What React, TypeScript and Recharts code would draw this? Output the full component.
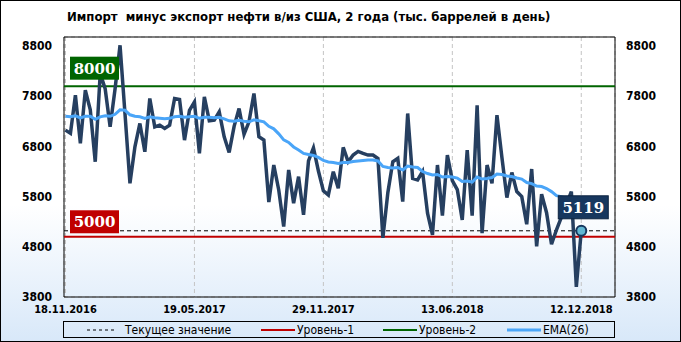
import React from "react";
import {
  CartesianGrid,
  ComposedChart,
  Line,
  ReferenceArea,
  ReferenceDot,
  ReferenceLine,
  XAxis,
  YAxis,
} from "recharts";

// weekly net imports (thousand barrels per day)
const netImports = [
  7125, 7060, 7820, 6860, 7920, 7530, 6495, 8250, 7950, 7190,
  7950, 8815, 7450, 6065, 6793, 7257, 6694, 7754, 7190, 7224,
  7158, 7224, 7754, 7734, 6926, 7520, 7687, 6660, 7787, 7310,
  7323, 7489, 6990, 6680, 7200, 7555, 7040, 7290, 7853, 6992,
  6926, 5690, 6430, 5932, 5204, 6330, 5668, 6197, 5436, 6510,
  6770, 6310, 5915, 5833, 6297, 5965, 6780, 6495, 6628, 6700,
  6660, 6628, 6628, 6560, 4980, 5880, 6495, 6562, 5700, 7456,
  6164, 6131, 6300, 5469, 5038, 6429, 5420, 6628, 6120, 5940,
  5336, 6727, 5420, 7621, 5072, 6429, 6065, 7423, 6580, 5780,
  6280, 5900, 5800, 5250, 6350, 4807, 5850, 5480, 4850, 5140,
  5390, 5650, 5900, 4000, 5119,
];

const ema26 = [
  7400, 7390, 7410, 7370, 7400, 7400, 7340, 7390, 7410, 7400,
  7440, 7530, 7520, 7430, 7400, 7390, 7360, 7390, 7370, 7360,
  7350, 7360, 7390, 7400, 7380, 7390, 7400, 7360, 7380, 7380,
  7370, 7380, 7350, 7310, 7300, 7320, 7300, 7290, 7330, 7310,
  7290, 7200, 7150, 7050, 6930, 6880, 6790, 6730, 6660, 6640,
  6620, 6580, 6520, 6490, 6480, 6460, 6480, 6480, 6500, 6510,
  6520, 6530, 6530, 6510, 6400, 6380, 6370, 6380, 6330, 6410,
  6390, 6380, 6300, 6260, 6230, 6240, 6190, 6200, 6190, 6170,
  6100, 6110, 6090, 6190, 6150, 6160, 6180, 6250, 6240, 6210,
  6200, 6170, 6150, 6080, 6060, 6010, 6000, 5960, 5900, 5820,
  5800, 5770, 5760, 5680, 5640,
];

const tickIndex = [0, 26, 52, 78, 104];
const tickLabels = ["18.11.2016", "19.05.2017", "29.11.2017", "13.06.2018", "12.12.2018"];
const yTicks = [3800, 4800, 5800, 6800, 7800, 8800];
const level1 = 5000;
const level2 = 8000;
const lastValue = netImports[netImports.length - 1];

const data = netImports.map((v, i) => ({ i, value: v, ema: ema26[i] }));

const X_MIN = -0.3;
const X_MAX = 110.8;
const Y_MIN = 3800;
const Y_MAX = 8980;

const axisFont = "'DejaVu Sans Condensed', 'DejaVu Sans', sans-serif";
const boxFont = "'DejaVu Serif', 'Liberation Serif', serif";

function LevelTag(props: any) {
  const { viewBox, text, fill, gap } = props;
  if (!viewBox) return null;
  const x = viewBox.x + 6;
  const y = viewBox.y - gap - 23;
  return (
    <g>
      <rect x={x} y={y} width={49} height={23} fill={fill} />
      <text
        x={x + 24.5}
        y={y + 17}
        textAnchor="middle"
        fill="#fff"
        fontFamily={boxFont}
        fontWeight="bold"
        fontSize={15}
      >
        {text}
      </text>
    </g>
  );
}

function LastTag(props: any) {
  const { viewBox, text } = props;
  if (!viewBox) return null;
  const cx = viewBox.x + viewBox.width / 2 + 2;
  const cy = viewBox.y + viewBox.height / 2;
  const x = cx - 25;
  const y = cy - 12 - 23;
  return (
    <g>
      <rect x={x} y={y} width={50} height={23} fill="#17375e" stroke="#0d2440" />
      <text
        x={cx}
        y={y + 17}
        textAnchor="middle"
        fill="#fff"
        fontFamily={boxFont}
        fontWeight="bold"
        fontSize={15}
      >
        {text}
      </text>
    </g>
  );
}

function LegendItem({ left, color, width, dashed, label }: any) {
  return (
    <div style={{ position: "absolute", left, top: 0, height: 15, display: "flex", alignItems: "center" }}>
      <svg width={dashed ? 36 : 34} height={6} style={{ display: "block" }}>
        <line
          x1={0}
          y1={3}
          x2={dashed ? 30 : 34}
          y2={3}
          stroke={color}
          strokeWidth={width}
          strokeDasharray={dashed ? "3 3" : undefined}
        />
      </svg>
      <span style={{ marginLeft: 2, fontSize: 12, fontFamily: axisFont, color: "#000" }}>{label}</span>
    </div>
  );
}

export default function App() {
  return (
    <div
      style={{
        position: "absolute",
        left: 0,
        top: 0,
        width: 681,
        height: 342,
        background: "linear-gradient(to bottom, #ffffff 0%, #ffffff 60%, #d8e8f9 100%)",
        boxShadow: "inset 0 0 0 1px #000",
        overflow: "hidden",
      }}
    >
      <div
        style={{
          position: "absolute",
          left: 67,
          top: 10,
          fontFamily: axisFont,
          fontWeight: "bold",
          fontSize: 13,
          lineHeight: "13px",
          whiteSpace: "pre",
          color: "#000",
        }}
      >
        Импорт  минус экспорт нефти в/из США, 2 года (тыс. баррелей в день)
      </div>

      <ComposedChart
        width={681}
        height={342}
        data={data}
        margin={{ top: 37, right: 0, bottom: 25, left: 0 }}
        style={{ position: "absolute", left: 0, top: 0 }}
      >
        <CartesianGrid stroke="#c4c4c4" strokeDasharray="4 3" vertical horizontal />
        <XAxis
          dataKey="i"
          type="number"
          domain={[X_MIN, X_MAX]}
          ticks={tickIndex}
          tickFormatter={(_v: number, idx: number) => tickLabels[idx]}
          height={20}
          tickSize={0}
          tickMargin={8}
          axisLine={false}
          interval={0}
          tick={{ fill: "#000", fontSize: 11, fontWeight: "bold", fontFamily: axisFont }}
        />
        <YAxis
          yAxisId="l"
          domain={[Y_MIN, Y_MAX]}
          ticks={yTicks}
          width={64}
          tickSize={0}
          tickMargin={12}
          axisLine={false}
          allowDataOverflow
          tick={{ fill: "#000", fontSize: 12, fontWeight: "bold", fontFamily: axisFont }}
        />
        <YAxis
          yAxisId="r"
          orientation="right"
          domain={[Y_MIN, Y_MAX]}
          ticks={yTicks}
          width={66}
          tickSize={0}
          tickMargin={11}
          axisLine={false}
          allowDataOverflow
          tick={{ fill: "#000", fontSize: 12, fontWeight: "bold", fontFamily: axisFont }}
        />
        <ReferenceArea
          yAxisId="l"
          x1={X_MIN}
          x2={X_MAX}
          y1={Y_MIN}
          y2={Y_MAX}
          fill="none"
          stroke="#000"
          strokeWidth={1}
        />
        <ReferenceLine
          yAxisId="l"
          y={lastValue}
          stroke="#000"
          strokeWidth={1}
          strokeDasharray="4 3"
        />
        <ReferenceLine yAxisId="l" y={level1} stroke="#c00000" strokeWidth={2} />
        <ReferenceLine yAxisId="l" y={level2} stroke="#006400" strokeWidth={2} />
        <Line
          yAxisId="l"
          dataKey="value"
          stroke="#263f60"
          strokeWidth={3.5}
          dot={false}
          type="linear"
          isAnimationActive={false}
        />
        <Line
          yAxisId="l"
          dataKey="ema"
          stroke="#4aa5f8"
          strokeWidth={3}
          dot={false}
          type="linear"
          isAnimationActive={false}
        />
        <ReferenceLine
          yAxisId="l"
          y={level2}
          stroke="none"
          label={(p: any) => <LevelTag {...p} text={String(level2)} fill="#006400" gap={6.5} />}
        />
        <ReferenceLine
          yAxisId="l"
          y={level1}
          stroke="none"
          label={(p: any) => <LevelTag {...p} text={String(level1)} fill="#c00000" gap={3.5} />}
        />
        <ReferenceDot
          yAxisId="l"
          x={netImports.length - 1}
          y={lastValue}
          r={5}
          fill="#62b7d3"
          stroke="#17375e"
          strokeWidth={2}
          label={(p: any) => <LastTag {...p} text={String(lastValue)} />}
        />
      </ComposedChart>

      <div
        style={{
          position: "absolute",
          left: 63,
          top: 321,
          width: 552,
          height: 17,
          boxSizing: "border-box",
          border: "1px solid #000",
        }}
      >
        <LegendItem left={23} color="#000" width={1} dashed label="Текущее значение" />
        <LegendItem left={197} color="#c00000" width={2} label="Уровень-1" />
        <LegendItem left={319} color="#006400" width={2} label="Уровень-2" />
        <LegendItem left={443} color="#4aa5f8" width={3} label="EMA(26)" />
      </div>
    </div>
  );
}
